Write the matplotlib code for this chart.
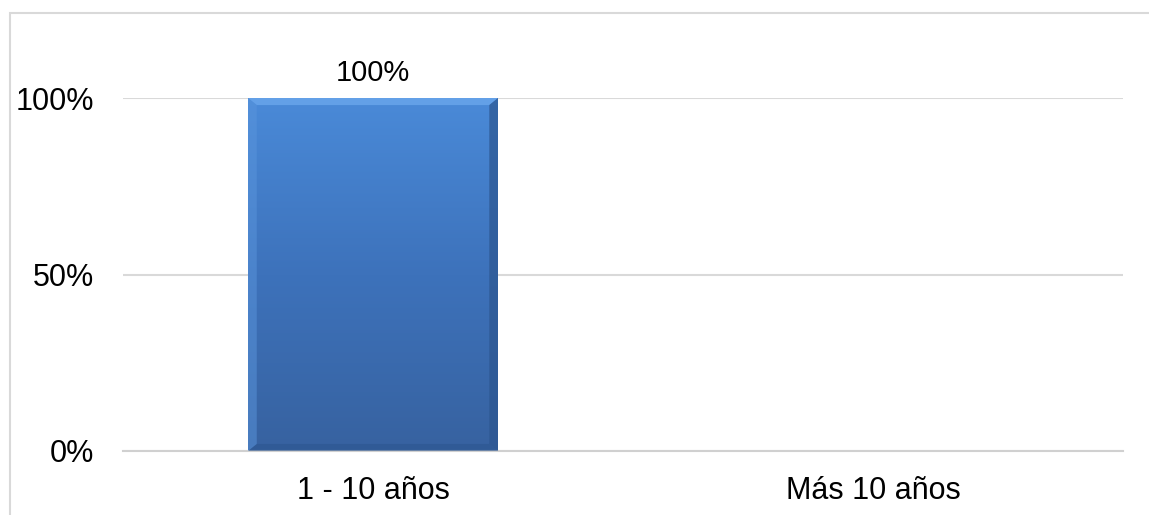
import matplotlib
matplotlib.use("Agg")
import matplotlib.pyplot as plt
import numpy as np
from matplotlib.patches import Rectangle
from matplotlib.colors import LinearSegmentedColormap

categories = ["1 - 10 años", "Más 10 años"]
values = [100, 0]
value_labels = ["100%", ""]
yticks = [0, 50, 100]
ytick_labels = ["0%", "50%", "100%"]

plt.rcParams['font.family'] = ['Liberation Sans', 'DejaVu Sans']

W, H = 1149, 515
fig = plt.figure(figsize=(W / 100, H / 100), dpi=100)
fig.patch.set_facecolor("white")

# chart border (clipped at right / bottom)
fig.patches.append(Rectangle((10 / W, -0.1), 1.2, 1 - 13 / H + 0.1,
                             transform=fig.transFigure, fill=False,
                             edgecolor="#d9d9d9", linewidth=1.5))

ax = fig.add_axes([123 / W, 1 - 451 / H, 1000 / W, (451 - 98) / H])
x = np.arange(len(categories))
ax.set_xlim(-0.5, len(categories) - 0.5)
ax.set_ylim(0, 100)

for s in ["top", "right", "left"]:
    ax.spines[s].set_visible(False)
ax.spines["bottom"].set_color("#d0d0d0")
ax.spines["bottom"].set_linewidth(1.5)
ax.set_yticks(yticks)
ax.set_yticklabels(ytick_labels, fontsize=22)
ax.set_xticks(x)
ax.set_xticklabels(categories, fontsize=22)
ax.tick_params(axis="y", length=0, pad=21)
ax.tick_params(axis="x", length=0, pad=18)
ax.grid(axis="y", color="#d9d9d9", linewidth=1.5)
ax.set_axisbelow(True)

cmap = LinearSegmentedColormap.from_list("bar", ["#3762a0", "#3d72bb", "#4a8ad8"])
bw = 0.5
bars = ax.bar(x, values, width=bw, color="none", edgecolor="none", zorder=2)
for b, v in zip(bars, values):
    if v <= 0:
        continue
    x0, y0 = b.get_x(), b.get_y()
    w, h = b.get_width(), b.get_height()
    grad = np.linspace(0, 1, 256).reshape(-1, 1)
    im = ax.imshow(grad, extent=[x0, x0 + w, y0, y0 + h], origin="lower",
                   aspect="auto", cmap=cmap, zorder=2)
    im.set_clip_path(b)
    # bevel edges
    ex = w * 0.035
    ey = h * 0.02
    ax.fill([x0, x0 + w, x0 + w - ex, x0 + ex], [y0 + h, y0 + h, y0 + h - ey, y0 + h - ey],
            color="#6aa6ec", alpha=0.8, zorder=3, linewidth=0)
    ax.fill([x0 + w, x0 + w, x0 + w - ex, x0 + w - ex], [y0, y0 + h, y0 + h - ey, y0 + ey],
            color="#2c5690", alpha=0.7, zorder=3, linewidth=0)
    ax.fill([x0, x0 + w, x0 + w - ex, x0 + ex], [y0, y0, y0 + ey, y0 + ey],
            color="#2c5690", alpha=0.6, zorder=3, linewidth=0)
    ax.fill([x0, x0, x0 + ex, x0 + ex], [y0, y0 + h, y0 + h - ey, y0 + ey],
            color="#5a95dc", alpha=0.5, zorder=3, linewidth=0)

for xi, v, lab in zip(x, values, value_labels):
    if lab:
        ax.annotate(lab, (xi, v), xytext=(0, 8), textcoords="offset points",
                    ha="center", va="bottom", fontsize=21, color="#000000")

ax.tick_params(colors="#000000")
fig.savefig("out.png", dpi=100, facecolor="white")
